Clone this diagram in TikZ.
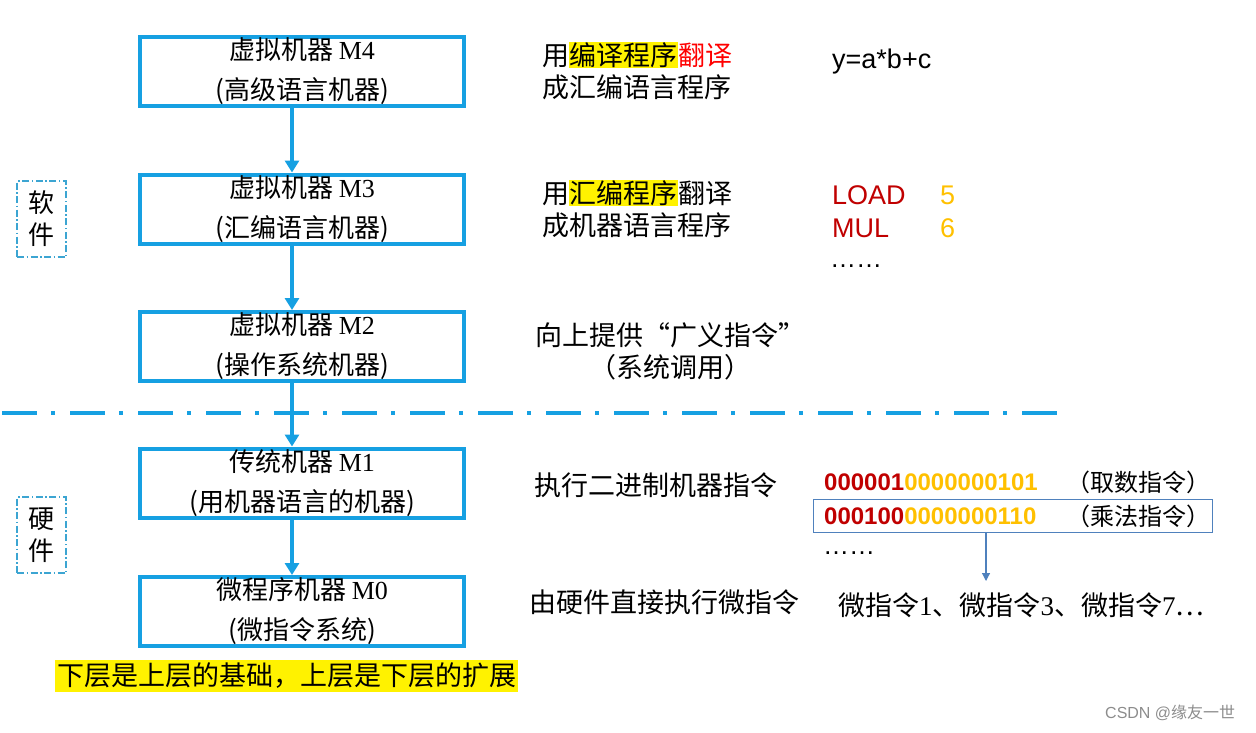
\documentclass[tikz,border=0pt]{standalone}
\usepackage{fontspec}
\setmainfont{Noto Sans CJK SC}
\newfontfamily\arial{Liberation Sans}
\newfontfamily\tms{Liberation Serif}
\usetikzlibrary{arrows.meta}
\definecolor{layerblue}{RGB}{22,160,226}
\definecolor{frameblue}{RGB}{60,165,210}
\definecolor{thinblue}{RGB}{79,129,189}
\definecolor{opred}{RGB}{192,0,0}
\definecolor{opgold}{RGB}{255,192,0}
\newcommand{\hlt}[1]{{\setlength{\fboxsep}{0.5pt}\colorbox{yellow}{#1}}}
\begin{document}
\begin{tikzpicture}[x=1pt,y=-1pt,
  layer/.style={draw=layerblue,line width=4pt,minimum width=324pt,minimum height=69pt,
    inner sep=0pt,align=center,font=\fontsize{26}{40}\selectfont},
  down/.style={draw=layerblue,line width=4pt,-{Triangle[width=14pt,length=12pt]}},
  side/.style={draw=frameblue,line width=1.3pt,dash pattern=on 7pt off 2.5pt on 1.5pt off 2.5pt,
    minimum width=49pt,minimum height=76pt,inner sep=0pt,align=center,font=\fontsize{26}{32}\selectfont},
  note/.style={anchor=west,inner sep=0pt,align=left,font=\fontsize{27}{32}\selectfont},
  code/.style={anchor=west,inner sep=0pt,font=\arial\fontsize{27}{32}\selectfont},
  bits/.style={anchor=west,inner sep=0pt,font=\arial\bfseries\fontsize{24}{28}\selectfont},
]
\useasboundingbox (0,0) rectangle (1256,732);
% layers
\node[layer] (m4) at (302,71.5) {虚拟机器 {\tms M4}\\(高级语言机器)};
\node[layer] (m3) at (302,209) {虚拟机器 {\tms M3}\\(汇编语言机器)};
\node[layer] (m2) at (302,346.5) {虚拟机器 {\tms M2}\\(操作系统机器)};
\node[layer] (m1) at (302,483) {传统机器 {\tms M1}\\(用机器语言的机器)};
\node[layer] (m0) at (302,611.5) {微程序机器 {\tms M0}\\(微指令系统)};
\draw[down] ([xshift=-10pt]m4.south) -- ([xshift=-10pt]m3.north);
\draw[down] ([xshift=-10pt]m3.south) -- ([xshift=-10pt]m2.north);
\draw[down] ([xshift=-10pt]m2.south) -- ([xshift=-10pt]m1.north);
\draw[down] ([xshift=-10pt]m1.south) -- ([xshift=-10pt]m0.north);
% software / hardware
\coordinate (sepL) at (2,413);
\coordinate (sepR) at (1058,413);
\draw[layerblue,line width=4.5pt,dash pattern=on 35pt off 14pt on 4pt off 15pt] (sepL) -- (sepR);
\node[side] (soft) at (41.5,219) {软\\件};
\node[side] (hard) at (41.5,535) {硬\\件};
% right column
\node[note] (t4) at (542,71) {用\hlt{编译程序}{\color{red}翻译}\\成汇编语言程序};
\node[note] (t3) at (542,209) {用\hlt{汇编程序}翻译\\成机器语言程序};
\node[note,anchor=center,align=center] (t2) at (670,351) {向上提供“广义指令”\\（系统调用）};
\node[note] (t1) at (534,485) {执行二进制机器指令};
\node[note] (t0) at (529,602) {由硬件直接执行微指令};
% examples
\node[code] (expr) at (832,62) {y=a*b+c};
\node[code,text=opred] (load) at (832,195) {LOAD};
\node[code,text=opgold] (five) at (940,195) {5};
\node[code,text=opred] (mul) at (832,228) {MUL};
\node[code,text=opgold] (six) at (940,228) {6};
\node[code,font=\arial\fontsize{26}{30}\selectfont] (dots3) at (830,266) {……};
\node[bits] (bin1) at (824,482) {{\color{opred}000001}{\color{opgold}0000000101}};
\node[note,font=\fontsize{24}{28}\selectfont] (op1) at (1066,482) {（取数指令）};
\node[bits] (bin2) at (824,516) {{\color{opred}000100}{\color{opgold}0000000110}};
\node[note,font=\fontsize{24}{28}\selectfont] (op2) at (1066,516) {（乘法指令）};
\node[draw=thinblue,line width=1.2pt,minimum width=399pt,minimum height=33pt] (mulbox) at (1013,516) {};
\node[code,font=\arial\fontsize{26}{30}\selectfont] (dots1) at (823,553) {……};
\node[note] (micro) at (838,605) {微指令{\tms 1}、微指令{\tms 3}、微指令{\tms 7}…};
\coordinate (tipend) at (986,581);
\draw[thinblue,line width=1.2pt,-{Triangle[width=8pt,length=8pt]}] (mulbox.south -| tipend) -- (tipend);
% bottom
\node[note,fill=yellow,inner xsep=2pt,inner ysep=3pt] (base) at (55,676) {下层是上层的基础，上层是下层的扩展};
\node[anchor=west,inner sep=0pt,text=black!45,font=\fontsize{16}{18}\selectfont] (mark) at (1105,713) {{\arial CSDN @}缘友一世};
\end{tikzpicture}
\end{document}
